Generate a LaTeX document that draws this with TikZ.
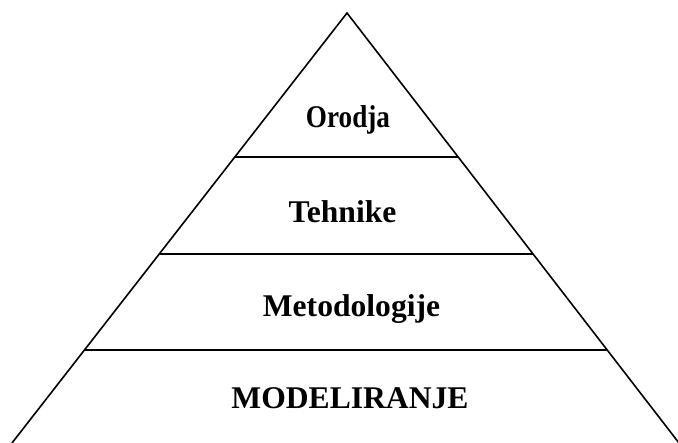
\documentclass[tikz,border=0pt]{standalone}
\usepackage{fontspec}
\setmainfont{Liberation Serif}
\usetikzlibrary{calc}
\tikzset{
  edge/.style={draw, line width=0.8pt, line join=miter},
  level/.style={draw, line width=0.8pt},
  tier/.style={anchor=base, inner sep=0pt, font=\fontsize{15.8}{18}\selectfont\bfseries},
  narrowtier/.style={tier, xscale=0.86}
}
\begin{document}
\begin{tikzpicture}[x=0.5pt, y=-0.5pt]
  \useasboundingbox (0,0) rectangle (678,443);
  \coordinate (apex) at (347,13);
  \coordinate (bl) at (12,443);
  \coordinate (br) at (679,443);

  % outline
  \path[edge] (bl) -- (apex) -- (br);

  % horizontal divisions
  \foreach \t in {0.335,0.5605,0.7837}
    \path[level] ($(apex)!\t!(bl)$) -- ($(apex)!\t!(br)$);

  \node[narrowtier] (orodja) at (348,128) {Orodja};
  \node[tier] (tehnike) at (342.5,222) {Tehnike};
  \node[tier] (metod) at (351.5,316) {Metodologije};
  \node[tier] (model) at (350,408) {MODELIRANJE};
\end{tikzpicture}
\end{document}
